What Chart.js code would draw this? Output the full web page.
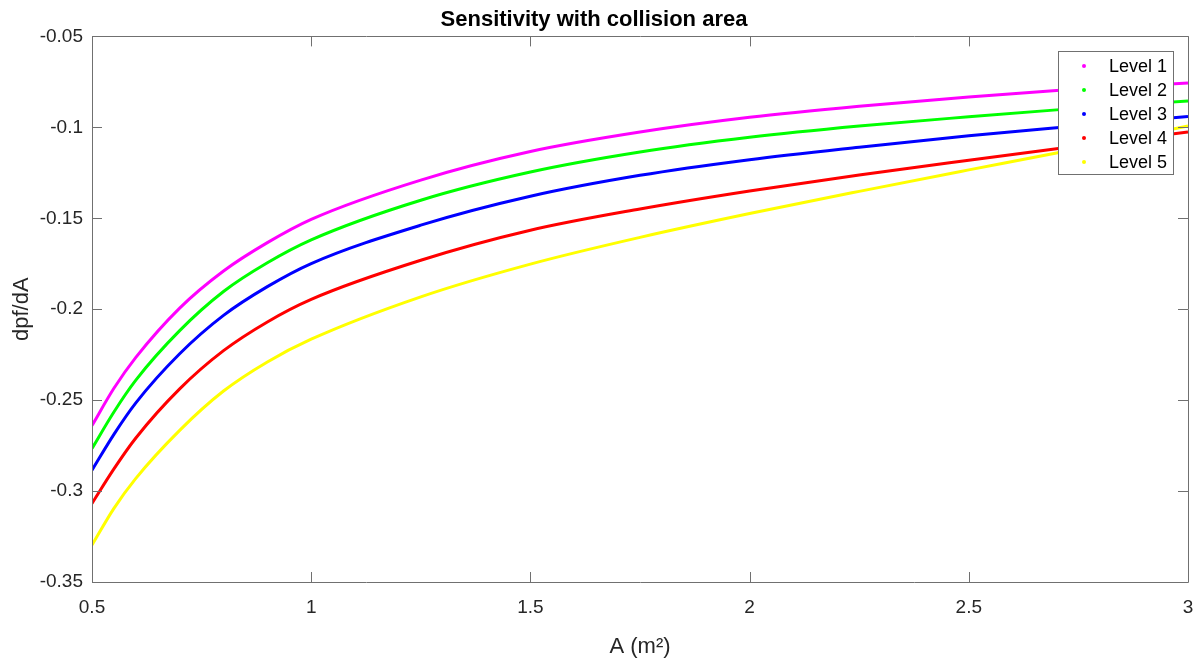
<!DOCTYPE html>
<html>
<head>
<meta charset="utf-8">
<script src="https://cdn.jsdelivr.net/npm/chart.js@4.4.1/dist/chart.umd.min.js"></script>
<style>
  html, body { margin: 0; padding: 0; background: #fff; }
  #wrap { width: 1203px; height: 660px; }
</style>
</head>
<body>
<div id="wrap"><canvas id="sensChart"></canvas></div>
<script>
// collision area A (m^2)
const areas = [0.5, 0.55, 0.6, 0.7, 0.8, 0.9, 1.0, 1.25, 1.5, 1.75, 2.0, 2.25, 2.5, 2.7, 3.0];

// dpf/dA per level
const level1 = [-0.264, -0.2435, -0.2265, -0.1994, -0.179, -0.1634, -0.1506, -0.129, -0.1133, -0.1026, -0.0945, -0.0884, -0.0833, -0.0798, -0.0756];
const level2 = [-0.2766, -0.2565, -0.239, -0.2118, -0.1903, -0.1745, -0.1619, -0.1401, -0.1246, -0.1136, -0.1055, -0.0993, -0.0942, -0.0904, -0.0855];
const level3 = [-0.2885, -0.2688, -0.2515, -0.2245, -0.2034, -0.1876, -0.1749, -0.1538, -0.1379, -0.1264, -0.1178, -0.1109, -0.1046, -0.1002, -0.094];
const level4 = [-0.3068, -0.2878, -0.2708, -0.2438, -0.2228, -0.207, -0.1946, -0.1731, -0.1566, -0.1449, -0.135, -0.1262, -0.1181, -0.1118, -0.1026];
const level5 = [-0.3297, -0.3095, -0.293, -0.2666, -0.245, -0.229, -0.2165, -0.1932, -0.1752, -0.1605, -0.1474, -0.1352, -0.1234, -0.1141, -0.0992];

const seriesNames = ['Level 1', 'Level 2', 'Level 3', 'Level 4', 'Level 5'];
const seriesColors = ['#ff00ff', '#00ff00', '#0000ff', '#ff0000', '#ffff00'];

const xTicks = [0.5, 1, 1.5, 2, 2.5, 3];
const yTicks = [-0.35, -0.3, -0.25, -0.2, -0.15, -0.1, -0.05];

const FONT = "'Liberation Sans', Arial, Helvetica, sans-serif";
const AXIS_COLOR = '#707070';

function toPoints(values) {
    return areas.map(function (a, i) { return { x: a, y: values[i] }; });
}

const allSeries = [level1, level2, level3, level4, level5];
const datasets = allSeries.map(function (values, i) {
    return {
        label: seriesNames[i],
        data: toPoints(values),
        borderColor: seriesColors[i],
        backgroundColor: seriesColors[i],
        borderWidth: 3,
        pointRadius: 0,
        fill: false,
        cubicInterpolationMode: 'monotone'
    };
});

// box around the axes with inward ticks on all four sides
const boxPlugin = {
    id: 'matlabBox',
    afterDatasetsDraw: function (chart) {
        const ctx = chart.ctx;
        const area = chart.chartArea;
        const xs = chart.scales.x;
        const ys = chart.scales.y;
        const len = 10;
        ctx.save();
        ctx.strokeStyle = AXIS_COLOR;
        ctx.lineWidth = 1;
        ctx.beginPath();
        ctx.rect(Math.round(area.left) + 0.5, Math.round(area.top) + 0.5,
            Math.round(area.right - area.left), Math.round(area.bottom - area.top));
        xTicks.forEach(function (v) {
            const px = Math.round(xs.getPixelForValue(v)) + 0.5;
            ctx.moveTo(px, area.bottom);
            ctx.lineTo(px, area.bottom - len);
            ctx.moveTo(px, area.top);
            ctx.lineTo(px, area.top + len);
        });
        yTicks.forEach(function (v) {
            const py = Math.round(ys.getPixelForValue(v)) + 0.5;
            ctx.moveTo(area.left, py);
            ctx.lineTo(area.left + len, py);
            ctx.moveTo(area.right, py);
            ctx.lineTo(area.right - len, py);
        });
        ctx.stroke();
        ctx.restore();
    }
};

// legend inside the top right corner of the axes
const insideLegend = {
    id: 'insideLegend',
    afterDatasetsDraw: function (chart) {
        const ctx = chart.ctx;
        const area = chart.chartArea;
        const w = 115, h = 123;
        const left = area.right - 15 - w;
        const top = area.top + 15;
        ctx.save();
        ctx.fillStyle = '#ffffff';
        ctx.fillRect(left, top, w, h);
        ctx.strokeStyle = AXIS_COLOR;
        ctx.lineWidth = 1;
        ctx.strokeRect(Math.round(left) + 0.5, Math.round(top) + 0.5, w, h);
        ctx.font = '18px ' + FONT;
        ctx.textBaseline = 'middle';
        ctx.textAlign = 'left';
        chart.data.datasets.forEach(function (ds, i) {
            const cy = top + 14.5 + i * 24;
            ctx.fillStyle = ds.borderColor;
            ctx.beginPath();
            ctx.arc(left + 26, cy, 2, 0, Math.PI * 2);
            ctx.fill();
            ctx.fillStyle = '#000000';
            ctx.fillText(ds.label, left + 51, cy + 1);
        });
        ctx.restore();
    }
};

const ctx = document.getElementById('sensChart');
const chart = new Chart(ctx, {
    type: 'line',
    data: { datasets: datasets },
    options: {
        responsive: true,
        maintainAspectRatio: false,
        animation: false,
        layout: { padding: { top: 0, right: 15, bottom: 0, left: 0 } },
        plugins: {
            legend: { display: false },
            tooltip: { enabled: false },
            title: {
                display: true,
                text: 'Sensitivity with collision area',
                color: '#000000',
                font: { family: FONT, size: 22, weight: 'bold' },
                padding: { top: 7, bottom: 3 }
            }
        },
        scales: {
            x: {
                type: 'linear',
                min: 0.5,
                max: 3,
                afterBuildTicks: function (scale) {
                    scale.ticks = xTicks.map(function (v) { return { value: v }; });
                },
                afterFit: function (scale) {
                    scale.height = 78;
                    scale.paddingLeft = 0;
                    scale.paddingRight = 0;
                },
                grid: { display: false, drawTicks: false, tickLength: 0 },
                border: { display: false },
                ticks: {
                    color: '#262626',
                    padding: 14,
                    maxRotation: 0,
                    font: { family: FONT, size: 19 },
                    callback: function (v) { return String(v); }
                },
                title: {
                    display: true,
                    text: 'A (m²)',
                    color: '#262626',
                    font: { family: FONT, size: 22 },
                    padding: { top: 0, bottom: 0 }
                }
            },
            y: {
                type: 'linear',
                min: -0.35,
                max: -0.05,
                afterBuildTicks: function (scale) {
                    scale.ticks = yTicks.map(function (v) { return { value: v }; });
                },
                afterFit: function (scale) { scale.width = 92; },
                grid: { display: false, drawTicks: false, tickLength: 0 },
                border: { display: false },
                ticks: {
                    color: '#262626',
                    padding: 9,
                    font: { family: FONT, size: 19 },
                    callback: function (v) { return String(v); }
                },
                title: {
                    display: true,
                    text: 'dpf/dA',
                    color: '#262626',
                    font: { family: FONT, size: 22 },
                    padding: { top: 9, bottom: 0 }
                }
            }
        }
    },
    plugins: [boxPlugin, insideLegend]
});
</script>
</body>
</html>
